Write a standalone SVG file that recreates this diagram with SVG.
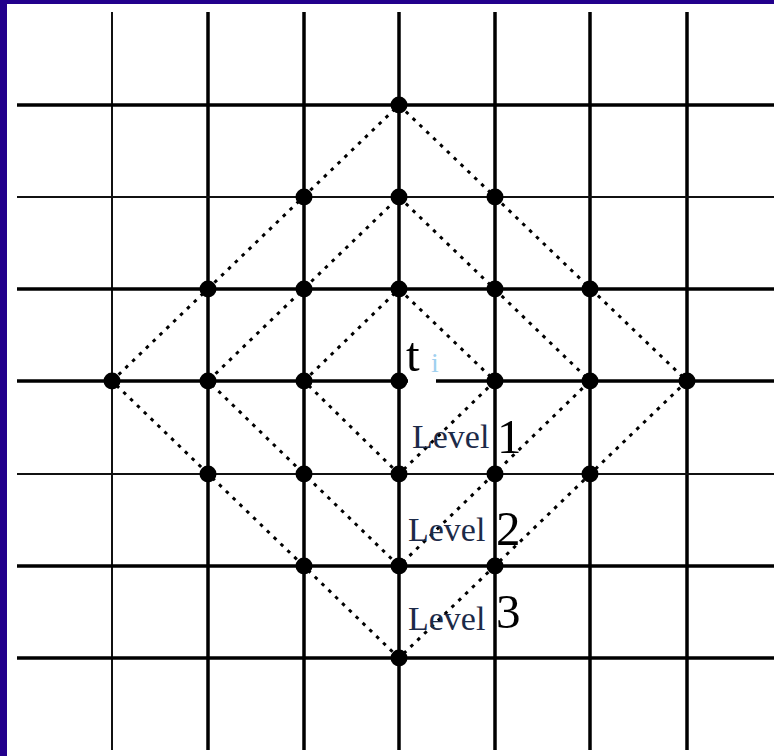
<svg xmlns="http://www.w3.org/2000/svg" width="774" height="756" viewBox="0 0 774 756">
<style>
.thick{stroke:#000;stroke-width:3.5;fill:none}
.thin{stroke:#111;stroke-width:2;fill:none}
.dot{stroke:#000;stroke-width:3;stroke-dasharray:3.5 6;fill:none}
.node{fill:#000}
.lvl{font-family:"Liberation Serif","Times New Roman",serif;font-size:34px;fill:#1c2a48}
.num{font-family:"Liberation Serif","Times New Roman",serif;font-size:49px;fill:#000}
</style>
<rect x="0" y="0" width="774" height="756" fill="#ffffff"/>
<rect x="0" y="0" width="774" height="4" fill="#22008c"/>
<rect x="0" y="0" width="7" height="756" fill="#22008c"/>
<g id="grid">
<line class="thin" x1="112" y1="12" x2="112" y2="750"/>
<line class="thick" x1="208" y1="12" x2="208" y2="750"/>
<line class="thick" x1="304" y1="12" x2="304" y2="750"/>
<line class="thick" x1="399" y1="12" x2="399" y2="750"/>
<line class="thick" x1="495" y1="12" x2="495" y2="750"/>
<line class="thick" x1="590" y1="12" x2="590" y2="750"/>
<line class="thick" x1="687" y1="12" x2="687" y2="750"/>
<line class="thick" x1="17" y1="105" x2="774" y2="105"/>
<line class="thin" x1="17" y1="197" x2="774" y2="197"/>
<line class="thick" x1="17" y1="289" x2="774" y2="289"/>
<line class="thick" x1="17" y1="381" x2="774" y2="381"/>
<line class="thin" x1="17" y1="474" x2="774" y2="474"/>
<line class="thick" x1="17" y1="566" x2="774" y2="566"/>
<line class="thick" x1="17" y1="658" x2="774" y2="658"/>
</g>
<g id="connectors">
<polygon class="dot" points="399,289 495,381 399,474 304,381"/>
<polygon class="dot" points="399,197 590,381 399,566 208,381"/>
<polygon class="dot" points="399,105 687,381 399,658 112,381"/>
</g>
<g id="nodes">
<circle class="node" cx="399" cy="105" r="8.5"/>
<circle class="node" cx="304" cy="197" r="8.5"/>
<circle class="node" cx="399" cy="197" r="8.5"/>
<circle class="node" cx="495" cy="197" r="8.5"/>
<circle class="node" cx="208" cy="289" r="8.5"/>
<circle class="node" cx="304" cy="289" r="8.5"/>
<circle class="node" cx="399" cy="289" r="8.5"/>
<circle class="node" cx="495" cy="289" r="8.5"/>
<circle class="node" cx="590" cy="289" r="8.5"/>
<circle class="node" cx="112" cy="381" r="8.5"/>
<circle class="node" cx="208" cy="381" r="8.5"/>
<circle class="node" cx="304" cy="381" r="8.5"/>
<circle class="node" cx="399" cy="381" r="8.5"/>
<circle class="node" cx="495" cy="381" r="8.5"/>
<circle class="node" cx="590" cy="381" r="8.5"/>
<circle class="node" cx="687" cy="381" r="8.5"/>
<circle class="node" cx="208" cy="474" r="8.5"/>
<circle class="node" cx="304" cy="474" r="8.5"/>
<circle class="node" cx="399" cy="474" r="8.5"/>
<circle class="node" cx="495" cy="474" r="8.5"/>
<circle class="node" cx="590" cy="474" r="8.5"/>
<circle class="node" cx="304" cy="566" r="8.5"/>
<circle class="node" cx="399" cy="566" r="8.5"/>
<circle class="node" cx="495" cy="566" r="8.5"/>
<circle class="node" cx="399" cy="658" r="8.5"/>
</g>
<g id="label-t">
<rect x="408" y="336" width="28" height="48" fill="#fff"/>
<text x="406" y="371" class="num" font-size="50">t</text>
<text x="431" y="372" font-family="Liberation Serif, serif" font-size="28" fill="#9fd0ef">i</text>
</g>
<g id="labels">
<text x="412" y="448" class="lvl">Level</text>
<text x="497" y="453" class="num">1</text>
<text x="408" y="541" class="lvl">Level</text>
<text x="496" y="545" class="num">2</text>
<text x="408" y="630" class="lvl">Level</text>
<text x="496" y="628" class="num">3</text>
</g>
</svg>
